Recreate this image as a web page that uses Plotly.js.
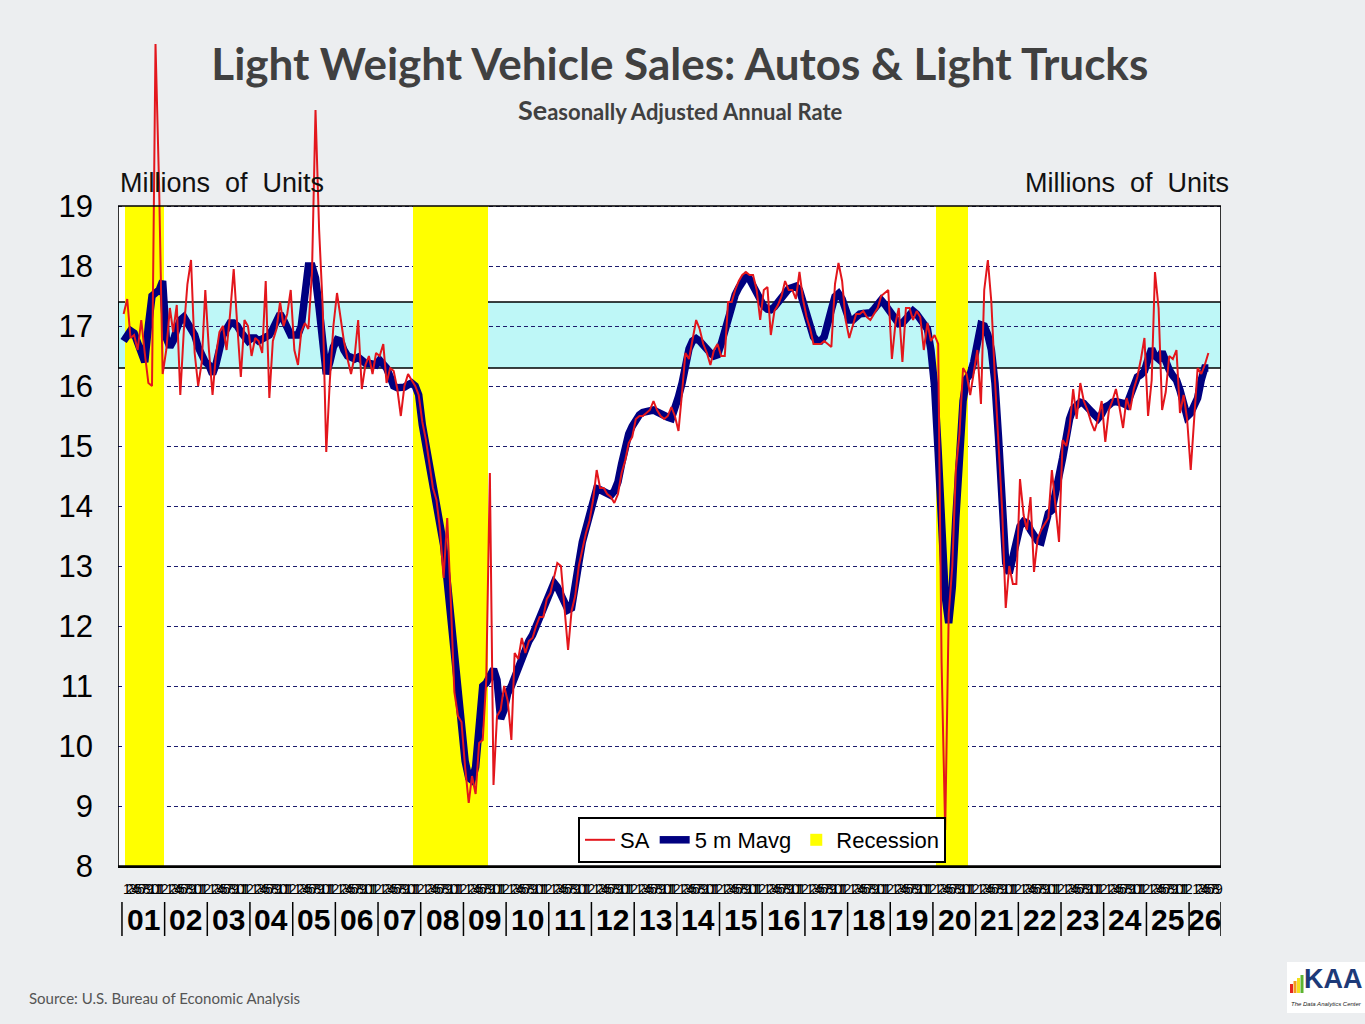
<!DOCTYPE html>
<html>
<head>
<meta charset="utf-8">
<script src="https://cdn.plot.ly/plotly-3.0.1.min.js"></script>
<style>
html,body{margin:0;padding:0;background:#eceef0;}
#chart{width:1365px;height:1024px;}
</style>
</head>
<body>
<div id="chart"></div>
<script>
// ---------------- DATA ----------------
const startYear = 2001;           // first month of the series: Jan 2001
// Light weight vehicle sales, SAAR, millions of units (monthly, Jan 2001 - Jun 2026)
const saValues = [
  17.2, 17.45, 16.8, 16.85, 16.6, 17.1, 16.55, 16.05, 16.0, 21.7, 19.3, 16.2,      // 2001
  16.6, 17.3, 16.9, 17.35, 15.85, 16.95, 17.7, 18.1, 16.55, 16.0, 16.4, 17.6,      // 2002
  16.6, 15.85, 16.5, 16.9, 17.0, 16.6, 17.2, 17.95, 17.0, 16.15, 17.1, 17.0,       // 2003
  16.5, 16.8, 16.75, 16.55, 17.75, 15.8, 16.75, 16.95, 17.4, 17.0, 17.2, 17.6,     // 2004
  16.6, 16.35, 16.9, 17.05, 16.95, 17.9, 20.6, 18.6, 17.3, 14.9, 16.1, 17.0,       // 2005
  17.55, 17.1, 16.75, 16.45, 16.2, 16.5, 17.1, 15.95, 16.35, 16.5, 16.2, 16.55,    // 2006
  16.5, 16.7, 16.05, 16.3, 16.25, 15.95, 15.5, 16.0, 16.2, 16.1, 16.0, 15.85,      // 2007
  15.4, 15.1, 14.75, 14.3, 14.1, 13.6, 12.8, 13.8, 12.4, 10.9, 10.5, 10.4,         // 2008
  9.65, 9.05, 9.5, 9.2, 10.05, 10.1, 11.1, 14.55, 9.35, 10.5, 10.6, 11.0,          // 2009
  10.75, 10.1, 11.55, 11.45, 11.8, 11.55, 11.75, 11.8, 12.0, 12.15, 12.15, 12.45,  // 2010
  12.55, 12.8, 13.05, 13.0, 12.3, 11.6, 12.25, 12.5, 13.0, 13.3, 13.55, 13.75,     // 2011
  14.1, 14.6, 14.3, 14.3, 14.2, 14.15, 14.05, 14.2, 14.55, 14.75, 15.05, 15.15,    // 2012
  15.45, 15.5, 15.5, 15.55, 15.6, 15.75, 15.6, 15.5, 15.45, 15.5, 15.65, 15.5,     // 2013
  15.25, 15.9, 16.55, 16.45, 16.8, 17.1, 16.95, 16.7, 16.55, 16.35, 16.6, 16.7,    // 2014
  16.5, 16.5, 17.4, 17.4, 17.6, 17.75, 17.85, 17.9, 17.85, 17.85, 17.6, 17.1,      // 2015
  17.6, 17.65, 16.85, 17.25, 17.35, 17.5, 17.75, 17.6, 17.6, 17.45, 17.9, 17.45,   // 2016
  17.15, 16.95, 16.7, 16.7, 16.7, 16.75, 16.7, 16.65, 17.7, 18.05, 17.75, 17.1,    // 2017
  16.8, 17.0, 17.2, 17.2, 17.25, 17.15, 17.1, 17.2, 17.3, 17.5, 17.55, 17.6,       // 2018
  16.45, 17.05, 17.3, 16.4, 17.3, 17.3, 17.1, 17.25, 17.15, 16.6, 17.05, 16.75,    // 2019
  16.85, 16.7, 11.4, 8.6, 12.2, 13.0, 14.6, 15.2, 16.3, 16.2, 15.85, 16.2,         // 2020
  16.6, 15.7, 17.6, 18.1, 17.4, 16.1, 15.1, 13.95, 12.3, 13.0, 12.7, 12.7,         // 2021
  14.45, 13.85, 13.6, 14.15, 12.9, 13.45, 13.6, 13.7, 13.8, 14.6, 14.0, 13.4,      // 2022
  15.1, 15.0, 15.3, 15.95, 15.45, 16.05, 15.75, 15.6, 15.4, 15.25, 15.45, 15.75,   // 2023
  15.07, 15.6, 15.75, 15.95, 15.65, 15.3, 15.8, 15.6, 15.95, 16.15, 16.45, 16.8,   // 2024
  15.5, 16.1, 17.9, 17.3, 15.6, 15.9, 16.5, 16.45, 16.6, 15.55, 15.85, 15.45,      // 2025
  14.6, 15.6, 16.3, 16.2, 16.35, 16.55                                             // 2026
];
// 5-month moving average as drawn (thick navy line)
const mavgValues = [
  16.75, 16.85, 16.92, 16.88, 16.7, 16.55, 16.4, 17.0, 17.5, 17.55, 17.6, 17.75,   // 2001
  16.8, 16.65, 16.75, 16.95, 17.1, 17.15, 17.05, 16.95, 16.85, 16.65, 16.5, 16.4,  // 2002
  16.35, 16.2, 16.35, 16.6, 16.85, 16.95, 17.05, 17.05, 17.0, 16.9, 16.8, 16.75,   // 2003
  16.8, 16.8, 16.75, 16.78, 16.8, 16.85, 16.95, 17.1, 17.2, 17.1, 16.95, 16.85,    // 2004
  16.85, 16.85, 17.0, 17.6, 18.0, 18.0, 17.8, 17.3, 16.8, 16.2, 16.4, 16.65,       // 2005
  16.77, 16.75, 16.6, 16.5, 16.48, 16.45, 16.48, 16.43, 16.38, 16.38, 16.38, 16.35,// 2006
  16.43, 16.38, 16.3, 16.15, 16.0, 15.97, 15.97, 15.98, 16.02, 16.05, 16.0, 15.85, // 2007
  15.35, 15.0, 14.7, 14.35, 14.05, 13.75, 13.35, 12.75, 12.1, 11.5, 10.9, 10.3,    // 2008
  9.75, 9.47, 9.43, 9.65, 10.3, 11.0, 11.05, 11.15, 11.28, 11.1, 10.45, 10.6,      // 2009
  10.88, 11.0, 11.15, 11.3, 11.5, 11.6, 11.75, 11.85, 12.0, 12.12, 12.3, 12.48,    // 2010
  12.6, 12.72, 12.65, 12.52, 12.4, 12.27, 12.3, 12.6, 13.05, 13.4, 13.65, 13.9,    // 2011
  14.12, 14.29, 14.27, 14.24, 14.21, 14.18, 14.25, 14.4, 14.7, 14.97, 15.2, 15.33, // 2012
  15.45, 15.52, 15.56, 15.58, 15.6, 15.6, 15.57, 15.53, 15.5, 15.48, 15.46, 15.6,  // 2013
  15.82, 16.05, 16.35, 16.62, 16.75, 16.79, 16.75, 16.67, 16.6, 16.55, 16.5, 16.52,// 2014
  16.7, 16.92, 17.18, 17.38, 17.52, 17.64, 17.75, 17.82, 17.78, 17.66, 17.54, 17.42,// 2015
  17.33, 17.28, 17.27, 17.32, 17.4, 17.48, 17.57, 17.62, 17.64, 17.66, 17.6, 17.42,// 2016
  17.16, 16.95, 16.82, 16.75, 16.75, 16.82, 17.0, 17.27, 17.49, 17.54, 17.45, 17.27,// 2017
  17.1, 17.1, 17.16, 17.2, 17.21, 17.22, 17.22, 17.28, 17.38, 17.43, 17.36, 17.27, // 2018
  17.18, 17.1, 17.04, 17.05, 17.12, 17.16, 17.25, 17.2, 17.12, 17.02, 16.95, 16.6, // 2019
  16.0, 14.9, 13.5, 12.5, 12.05, 12.65, 13.8, 14.95, 15.75, 16.12, 16.2, 16.4,     // 2020
  16.8, 17.02, 17.0, 16.85, 16.6, 16.05, 15.15, 14.05, 13.05, 12.88, 13.15, 13.38, // 2021
  13.66, 13.74, 13.72, 13.6, 13.5, 13.42, 13.4, 13.68, 13.88, 13.93, 14.3, 14.5,   // 2022
  14.8, 15.15, 15.45, 15.62, 15.7, 15.73, 15.71, 15.66, 15.58, 15.52, 15.46, 15.53,// 2023
  15.65, 15.68, 15.73, 15.74, 15.74, 15.71, 15.68, 15.82, 16.02, 16.15, 16.19, 16.25,// 2024
  16.45, 16.62, 16.5, 16.45, 16.57, 16.4, 16.27, 16.17, 16.1, 15.93, 15.71, 15.49, // 2025
  15.55, 15.68, 15.8, 16.1, 16.3, 16.3                                             // 2026
];
// Recession shading (first and last shaded month)
const recessionPeriods = [['2001-02', '2001-12'], ['2007-11', '2009-07'], ['2020-02', '2020-10']];
const recessionLevel = 19;
// Reference band
const bandLow = 16.3;
const bandHigh = 17.4;
// Axes
const yMin = 8, yMax = 19;
const yTickValues = [8, 9, 10, 11, 12, 13, 14, 15, 16, 17, 18, 19];
const monthLabels = ['1','2','3','4','5','6','7','8','9','10','11','12'];
const yearLabels = ['01','02','03','04','05','06','07','08','09','10','11','12','13',
                    '14','15','16','17','18','19','20','21','22','23','24','25','26'];
const lastYearMonths = 9;          // the axis runs to Sep 2026
const axisStart = '2000-11-28';
const axisEnd = '2026-10-01';

// ---------------- BUILD ----------------
function monthDate(i) {
  const y = startYear + Math.floor(i / 12);
  const m = (i % 12) + 1;
  return y + '-' + String(m).padStart(2, '0') + '-15';
}
const months = saValues.map((_, i) => monthDate(i));

const recX = [];
recessionPeriods.forEach(([a, b]) => {
  let [y, m] = a.split('-').map(Number);
  const [y2, m2] = b.split('-').map(Number);
  while (y < y2 || (y === y2 && m <= m2)) {
    recX.push(y + '-' + String(m).padStart(2, '0') + '-15');
    m++; if (m > 12) { m = 1; y++; }
  }
});

const DAY = 86400000;
const traces = [
  { type: 'bar', name: 'Recession', x: recX, y: recX.map(() => recessionLevel),
    width: 31 * DAY, marker: { color: '#ffff00', line: { width: 0 } },
    legendrank: 3, hoverinfo: 'skip' },
  { type: 'scatter', mode: 'lines', name: '5 m Mavg', x: months, y: mavgValues,
    line: { color: '#000080', width: 7.5 }, legendrank: 2 },
  { type: 'scatter', mode: 'lines', name: 'SA', x: months, y: saValues,
    line: { color: '#e3161c', width: 2 }, legendrank: 1 }
];

// pixel frame: the boxed area (8..19) spans x 118..1221, y 206..866.
// The subplot itself reaches higher so that the spikes above 19 stay visible.
const L = 118, R = 1221, BOXTOP = 206, B = 866;
const pxPerUnit = (B - BOXTOP) / (yMax - yMin);
const T = 26;
const yTop = yMax + (BOXTOP - T) / pxPerUnit;   // axis value at the subplot top
const px = x => (x - L) / (R - L);
const py = y => (B - y) / (B - T);

const shapes = [
  { type: 'rect', xref: 'x', yref: 'y', x0: axisStart, x1: axisEnd, y0: yMin, y1: yMax,
    fillcolor: '#ffffff', line: { width: 0 }, layer: 'below' },
  { type: 'rect', xref: 'x', yref: 'y', x0: axisStart, x1: axisEnd, y0: bandLow, y1: bandHigh,
    fillcolor: '#bef7f7', line: { color: '#000', width: 1.5 }, layer: 'below' },
  { type: 'rect', xref: 'x', yref: 'y', x0: axisStart, x1: axisEnd, y0: yMin, y1: yMax,
    fillcolor: 'rgba(0,0,0,0)', line: { color: '#000', width: 1.6 }, layer: 'above' }
];
// year separators in the category axis
const sepDates = yearLabels.map((_, k) => (startYear + k) + '-01-01').concat([axisEnd]);
sepDates.forEach(d => shapes.push({ type: 'line', xref: 'x', yref: 'paper', x0: d, x1: d,
  y0: py(902), y1: py(936), line: { color: '#000', width: 1.5 } }));
// logo
shapes.push({ type: 'rect', xref: 'paper', yref: 'paper', x0: px(1287), x1: px(1366), y0: py(962), y1: py(1013),
  fillcolor: '#ffffff', line: { width: 0 } });
[['#e52521', 1290, 984], ['#f39a1e', 1293.5, 981], ['#f2e01c', 1297, 978], ['#5db430', 1300.5, 975]].forEach(([c, x, t]) =>
  shapes.push({ type: 'rect', xref: 'paper', yref: 'paper', x0: px(x), x1: px(x + 3), y0: py(993), y1: py(t),
    fillcolor: c, line: { width: 0 } }));

// year centres (for the year labels and the month-number strips)
const yearMid = yearLabels.map((_, k) => {
  const a = new Date(sepDates[k] + 'T00:00:00Z').getTime();
  const b = new Date(sepDates[k + 1] + 'T00:00:00Z').getTime();
  return new Date((a + b) / 2).toISOString().slice(0, 10);
});
// month numbers of each year, squeezed together as in the reference's crowded axis
const monthStrip = yearLabels.map((_, k) => {
  const n = (k === yearLabels.length - 1) ? lastYearMonths : 12;
  const s = monthLabels.slice(0, n).join('');
  return "<span style='letter-spacing:-4.95px'>" + s + '</span>';
});

const annotations = [
  { xref: 'paper', yref: 'paper', x: px(680), y: py(110), showarrow: false, xanchor: 'center', yanchor: 'middle',
    text: "<b><span style='font-size:27px'>Se</span>asonally Adjusted Annual Rate</b>",
    font: { family: 'Lato, Carlito, sans-serif', size: 22, color: '#404040' } },
  { xref: 'paper', yref: 'paper', x: px(118), y: py(183), showarrow: false, xanchor: 'left', yanchor: 'middle',
    text: 'Millions \u00a0of \u00a0Units', font: { family: 'Liberation Sans, Arial', size: 27, color: '#111' } },
  { xref: 'paper', yref: 'paper', x: px(1231), y: py(183), showarrow: false, xanchor: 'right', yanchor: 'middle',
    text: 'Millions \u00a0of \u00a0Units', font: { family: 'Liberation Sans, Arial', size: 27, color: '#111' } },
  { xref: 'paper', yref: 'paper', x: px(27), y: py(998), showarrow: false, xanchor: 'left', yanchor: 'middle',
    text: 'Source: U.S. Bureau of Economic Analysis', font: { family: 'Lato, sans-serif', size: 15, color: '#555' } },
  { xref: 'paper', yref: 'paper', x: px(1302), y: py(979), showarrow: false, xanchor: 'left', yanchor: 'middle',
    text: '<b>KAA</b>', font: { family: 'Liberation Sans, Arial', size: 27, color: '#1d3a78' } },
  { xref: 'paper', yref: 'paper', x: px(1289), y: py(1004), showarrow: false, xanchor: 'left', yanchor: 'middle',
    text: '<i>The Data Analytics Center</i>', font: { family: 'Liberation Sans, Arial', size: 6, color: '#222' } }
];
yearLabels.forEach((lab, k) => {
  annotations.push({ xref: 'x', yref: 'paper', x: yearMid[k], y: py(919), showarrow: false,
    xanchor: 'center', yanchor: 'middle', text: '<b>' + lab + '</b>',
    font: { family: 'Liberation Sans, Arial', size: 30, color: '#000' } });
});

const yTickFont = { family: 'Liberation Sans, Arial', size: 31, color: '#000' };
const layout = {
  width: 1365, height: 1024,
  margin: { l: L, r: 1365 - R, t: T, b: 1024 - B, pad: 0 },
  paper_bgcolor: '#eceef0', plot_bgcolor: 'rgba(0,0,0,0)',
  bargap: 0,
  showlegend: true,
  legend: { orientation: 'h', x: px(578), y: py(863), xanchor: 'left', yanchor: 'bottom',
    bgcolor: '#ffffff', bordercolor: '#000', borderwidth: 2,
    font: { family: 'Liberation Sans, Arial', size: 22, color: '#000' } },
  title: { text: '<b>Light Weight Vehicle Sales: Autos &amp; Light Trucks</b>',
    xref: 'container', yref: 'container', x: 0.498, y: 1 - 65 / 1024, xanchor: 'center', yanchor: 'middle',
    font: { family: 'Lato, Carlito, sans-serif', size: 44, color: '#404040' } },
  xaxis: { type: 'date', range: [axisStart, axisEnd], tickmode: 'array', tickvals: yearMid, ticktext: monthStrip,
    tickangle: 0, ticks: '', showgrid: false, zeroline: false,
    showline: true, mirror: false, linecolor: '#000', linewidth: 1.5, automargin: false,
    ticklabelstandoff: 10,
    tickfont: { family: 'Liberation Sans, Arial', size: 14, color: '#000' } },
  yaxis: { range: [yMin, yTop], tickmode: 'array', tickvals: yTickValues, ticks: '',
    showgrid: true, gridcolor: '#1c1c6e', gridwidth: 1, griddash: '4px,3px', zeroline: false,
    showline: false, automargin: false,
    tickfont: yTickFont, ticklabelstandoff: 24 },
  yaxis2: { overlaying: 'y', side: 'right', anchor: 'x', range: [yMin, yTop], tickmode: 'array', tickvals: yTickValues,
    ticks: '', showgrid: false, zeroline: false, showline: false, automargin: false,
    tickfont: yTickFont, ticklabelstandoff: 30 },
  shapes: shapes,
  annotations: annotations
};

Plotly.newPlot('chart', traces, layout, { displayModeBar: false, staticPlot: true });
</script>
</body>
</html>
